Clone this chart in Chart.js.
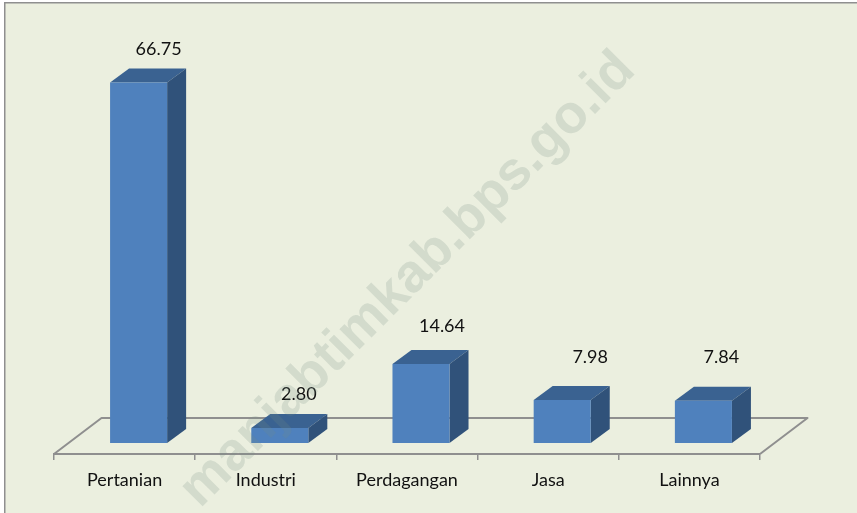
<!DOCTYPE html>
<html><head><meta charset="utf-8">
<style>html,body{margin:0;padding:0;background:#fff}canvas{display:block}</style>
<script src="https://cdn.jsdelivr.net/npm/chart.js@4"></script></head>
<body><canvas id="c" width="857" height="513"></canvas>
<script>
const categories = ["Pertanian","Industri","Perdagangan","Jasa","Lainnya"];
const values = [66.75,2.80,14.64,7.98,7.84];
const valueLabels = ["66.75","2.80","14.64","7.98","7.84"];
const watermarkText = "manjabtimkab.bps.go.id";

const FONT = 'Lato';
const shiftX = 14, depthX = 19, depthY = 14;
const labelShift = [[20,-19],[19,-20],[21,-24],[28,-29],[18,-30]];
const floorDX = 47.5, floorDY = -36;
const LINE = '#8f8f8f';

const bars3d = {
  id:'bars3d',
  beforeDraw(ch){
    const c = ch.ctx; c.save();
    c.fillStyle='#fff'; c.fillRect(0,0,857,513);
    c.fillStyle='#EBEFDF'; c.fillRect(5,3,852,510);
    c.fillStyle=LINE; c.fillRect(4,2,853,1.5); c.fillRect(4,2,1.5,511);
    c.restore();
  },
  beforeDatasetsDraw(ch){
    const c = ch.ctx, a = ch.chartArea;
    c.save();
    c.strokeStyle=LINE; c.lineWidth=2; c.lineJoin='round';
    c.beginPath();
    c.moveTo(a.left,a.bottom); c.lineTo(a.left+floorDX,a.bottom+floorDY);
    c.lineTo(a.right+floorDX,a.bottom+floorDY); c.lineTo(a.right,a.bottom);
    c.stroke();
    c.restore();
    c.save(); c.translate(shiftX,0);
    ch.getDatasetMeta(0).data.forEach(b=>{
      const l=b.x-b.width/2, r=b.x+b.width/2, t=b.y, bt=b.base;
      c.fillStyle='#3A6291';
      c.beginPath(); c.moveTo(l,t); c.lineTo(l+depthX,t-depthY); c.lineTo(r+depthX,t-depthY); c.lineTo(r,t); c.closePath(); c.fill();
      c.fillStyle='#30527A';
      c.beginPath(); c.moveTo(r,t); c.lineTo(r+depthX,t-depthY); c.lineTo(r+depthX,bt-depthY); c.lineTo(r,bt); c.closePath(); c.fill();
    });
  },
  afterDatasetsDraw(ch){
    const c = ch.ctx;
    c.restore();
    c.save();
    c.fillStyle='#111'; c.font='18px '+FONT; c.textAlign='center'; c.textBaseline='middle';
    ch.getDatasetMeta(0).data.forEach((b,i)=>{
      c.fillText(valueLabels[i], b.x+shiftX+labelShift[i][0], b.y-depthY+labelShift[i][1]);
    });
    c.restore();
  },
  afterDraw(ch){
    const c = ch.ctx;
    c.save();
    c.beginPath(); c.rect(5,3,852,510); c.clip();
    c.translate(637,72); c.rotate(-Math.PI/4);
    c.font='bold 54px "Liberation Sans"'; c.textAlign='right'; c.textBaseline='alphabetic';
    c.fillStyle='rgba(115,139,128,0.2)';
    c.fillText(watermarkText,0,0);
    c.restore();
  }
};

new Chart(document.getElementById('c'),{
  type:'bar',
  data:{labels:categories,datasets:[{data:values,backgroundColor:'#4F81BD',borderWidth:0,barPercentage:0.404,categoryPercentage:1}]},
  options:{
    responsive:false,animation:false,
    layout:{padding:{left:54,right:97,top:65,bottom:0}},
    plugins:{legend:{display:false},tooltip:{enabled:false}},
    scales:{
      y:{display:false,min:-2.03,max:70},
      x:{
        afterFit(s){s.height=59;},
        border:{color:LINE,width:2},
        grid:{drawOnChartArea:false,color:LINE,lineWidth:1.5,tickLength:6},
        ticks:{color:'#111',font:{family:FONT,size:18},padding:9,maxRotation:0,autoSkip:false}
      }
    }
  },
  plugins:[bars3d]
});
</script></body></html>
